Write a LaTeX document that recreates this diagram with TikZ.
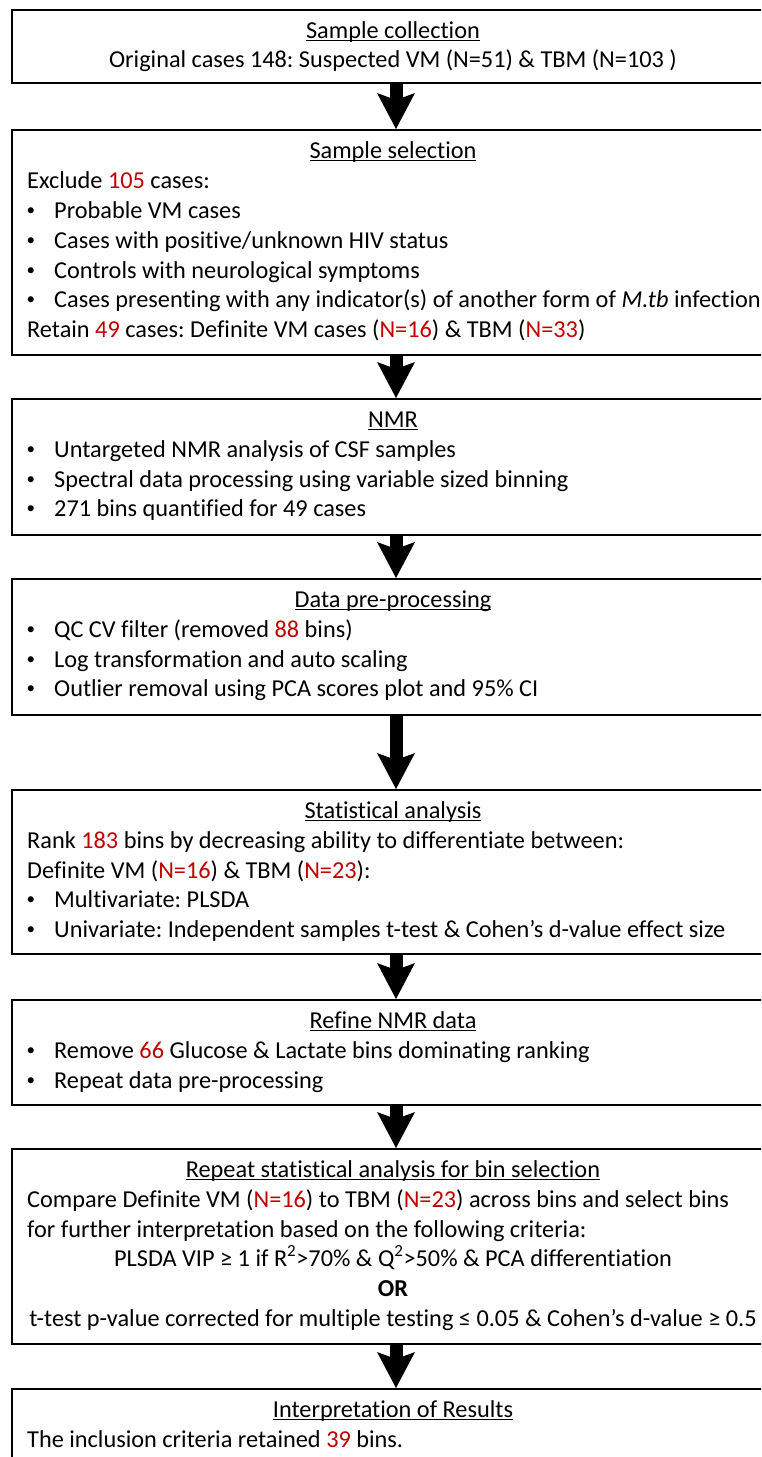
\documentclass[tikz,border=0pt]{standalone}
\usepackage{fontspec}
\setmainfont[Ligatures={NoCommon}]{Carlito}
\usetikzlibrary{arrows.meta}
\frenchspacing
\definecolor{vmred}{RGB}{192,0,0}
\newcommand\redt[1]{\textcolor{vmred}{#1}}
\newcommand\myul[1]{\sbox0{#1}\rlap{\rule[-3.3pt]{\wd0}{1.3pt}}\usebox0}
\tikzset{
  box/.style={draw, line width=2pt, rectangle, minimum width=768pt, anchor=north west, inner sep=0pt},
  txt/.style={anchor=base west, inner sep=0pt, font=\fontsize{24.3pt}{28pt}\selectfont},
  ctxt/.style={anchor=base, inner sep=0pt, font=\fontsize{24.3pt}{28pt}\selectfont},
  bul/.style={anchor=base west, inner sep=0pt, font=\fontsize{17pt}{20pt}\selectfont},
  flow/.style={line width=13pt, -{Stealth[length=36pt,width=38pt,inset=7pt,line width=0pt]}}
}
\newcommand\bu{\raisebox{2.5pt}{•}}
\begin{document}
\begin{tikzpicture}[x=1pt,y=1pt]
\useasboundingbox (0,0) rectangle (761,-1457);
\clip (0,0) rectangle (761,-1457);
\def\cx{393}
\def\lx{27}
\def\bx{26.5}
\def\tx{54}
% boxes
\node[box, minimum height=73pt] (b1) at (11,-9) {};
\node[box, minimum height=225pt] (b2) at (11,-129) {};
\node[box, minimum height=136pt] (b3) at (11,-398) {};
\node[box, minimum height=136pt] (b4) at (11,-578) {};
\node[box, minimum height=164pt] (b5) at (11,-789) {};
\node[box, minimum height=105pt] (b6) at (11,-999) {};
\node[box, minimum height=195pt] (b7) at (11,-1148) {};
\node[box, minimum height=120pt] (b8) at (11,-1388) {};
% arrows
\draw[flow] (b1.south) -- (b2.north);
\draw[flow] (b2.south) -- (b3.north);
\draw[flow] (b3.south) -- (b4.north);
\draw[flow] (b4.south) -- (b5.north);
\draw[flow] (b5.south) -- (b6.north);
\draw[flow] (b6.south) -- (b7.north);
\draw[flow] (b7.south) -- (b8.north);
% box 1
\node[ctxt] (t1a) at (\cx,-38) {\myul{Sample collection}};
\node[ctxt] (t1b) at (\cx,-67) {Original cases 148: Suspected VM (N=51) \& TBM (N=103 )};
% box 2
\node[ctxt] (t2a) at (\cx,-158) {\myul{Sample selection}};
\node[txt] (t2b) at (\lx,-188) {Exclude \redt{105} cases:};
\node[bul] (u2c) at (\bx,-218) {\bu};
\node[txt] (t2c) at (\tx,-218) {Probable VM cases};
\node[bul] (u2d) at (\bx,-248) {\bu};
\node[txt] (t2d) at (\tx,-248) {Cases with positive/unknown HIV status};
\node[bul] (u2e) at (\bx,-278) {\bu};
\node[txt] (t2e) at (\tx,-278) {Controls with neurological symptoms};
\node[bul] (u2f) at (\bx,-307) {\bu};
\node[txt] (t2f) at (\tx,-307) {Cases presenting with any indicator(s) of another form of \textit{M.tb} infection};
\node[txt] (t2g) at (\lx,-337) {Retain \redt{49} cases: Definite VM cases (\redt{N=16}) \& TBM (\redt{N=33})};
% box 3
\node[ctxt] (t3a) at (\cx,-427) {\myul{NMR}};
\node[bul] (u3b) at (\bx,-457) {\bu};
\node[txt] (t3b) at (\tx,-457) {Untargeted NMR analysis of CSF samples};
\node[bul] (u3c) at (\bx,-487) {\bu};
\node[txt] (t3c) at (\tx,-487) {Spectral data processing using variable sized binning};
\node[bul] (u3d) at (\bx,-516) {\bu};
\node[txt] (t3d) at (\tx,-516) {271 bins quantified for 49 cases};
% box 4
\node[ctxt] (t4a) at (\cx,-607) {\myul{Data pre-processing}};
\node[bul] (u4b) at (\bx,-637) {\bu};
\node[txt] (t4b) at (\tx,-637) {QC CV filter (removed \redt{88} bins)};
\node[bul] (u4c) at (\bx,-667) {\bu};
\node[txt] (t4c) at (\tx,-667) {Log transformation and auto scaling};
\node[bul] (u4d) at (\bx,-696) {\bu};
\node[txt] (t4d) at (\tx,-696) {Outlier removal using PCA scores plot and 95\% CI};
% box 5
\node[ctxt] (t5a) at (\cx,-818) {\myul{Statistical analysis}};
\node[txt] (t5b) at (\lx,-848) {Rank \redt{183} bins by decreasing ability to differentiate between:};
\node[txt] (t5c) at (\lx,-878) {Definite VM (\redt{N=16}) \& TBM (\redt{N=23}):};
\node[bul] (u5d) at (\bx,-907) {\bu};
\node[txt] (t5d) at (\tx,-907) {Multivariate: PLSDA};
\node[bul] (u5e) at (\bx,-937) {\bu};
\node[txt] (t5e) at (\tx,-937) {Univariate: Independent samples t-test \& Cohen’s d-value effect size};
% box 6
\node[ctxt] (t6a) at (\cx,-1028) {\myul{Refine NMR data}};
\node[bul] (u6b) at (\bx,-1058) {\bu};
\node[txt] (t6b) at (\tx,-1058) {Remove \redt{66} Glucose \& Lactate bins dominating ranking};
\node[bul] (u6c) at (\bx,-1088) {\bu};
\node[txt] (t6c) at (\tx,-1088) {Repeat data pre-processing};
% box 7
\node[ctxt] (t7a) at (\cx,-1177) {\myul{Repeat statistical analysis for bin selection}};
\node[txt] (t7b) at (\lx,-1207) {Compare Definite VM (\redt{N=16}) to TBM (\redt{N=23}) across bins and select bins};
\node[txt] (t7c) at (\lx,-1237) {for further interpretation based on the following criteria:};
\node[ctxt] (t7d) at (\cx,-1266) {PLSDA VIP ≥ 1 if R\textsuperscript{2}>70\% \& Q\textsuperscript{2}>50\% \& PCA differentiation};
\node[ctxt] (t7e) at (\cx,-1296) {\textbf{OR}};
\node[ctxt] (t7f) at (\cx,-1326) {t-test p-value corrected for multiple testing ≤ 0.05 \& Cohen’s d-value ≥ 0.5};
% box 8
\node[ctxt] (t8a) at (\cx,-1417) {\myul{Interpretation of Results}};
\node[txt] (t8b) at (\lx,-1447) {The inclusion criteria retained \redt{39} bins.};
\end{tikzpicture}
\end{document}
